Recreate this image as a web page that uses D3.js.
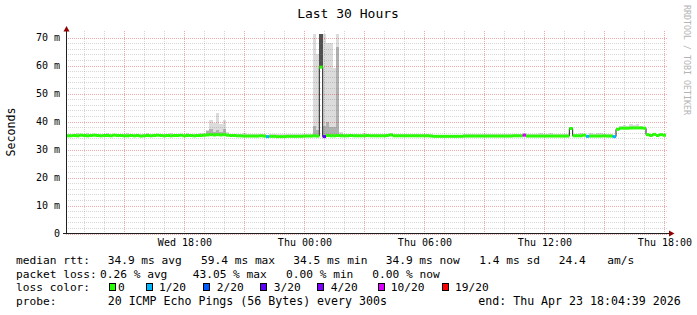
<!DOCTYPE html>
<html lang="en">
<head>
<meta charset="utf-8">
<title>Last 30 Hours</title>
<script src="https://d3js.org/d3.v7.min.js"></script>
<style>
  body{margin:0;background:#fff;}
  svg{display:block;font-family:"DejaVu Sans Mono",monospace;}
</style>
</head>
<body>
<div id="chart"></div>
<script>
// one value per 10 minutes, Wed 12:04:39 -> Thu 18:04:39 (180 steps)
var median = [
  34.9,34.9,35.0,34.9,35.1,35.0,34.9,35.0,35.1,35.0,34.9,35.0,35.0,34.9,35.1,35.0,35.0,34.9,34.9,35.0,
  34.9,35.0,34.8,34.9,35.0,34.9,35.0,35.1,35.0,34.9,35.0,34.9,35.0,35.0,35.1,34.9,35.0,35.0,34.9,35.0,
  35.0,35.1,35.2,35.3,35.2,35.3,35.2,35.3,35.1,35.0,35.0,34.9,34.9,34.8,34.8,34.8,34.8,34.8,34.9,34.8,
  34.6,34.7,34.7,34.6,34.6,34.6,34.7,34.7,34.7,34.7,34.7,34.8,34.8,34.8,34.9,34.8,59.4,34.6,35.0,34.9,
  34.9,35.0,34.9,34.9,34.9,35.0,34.9,34.9,34.9,34.9,35.0,34.9,34.9,34.9,34.9,34.9,35.0,35.2,34.9,34.9,
  34.9,34.9,34.9,34.9,34.9,34.9,34.9,34.9,34.9,34.8,34.7,34.7,34.7,34.7,34.7,34.7,34.7,34.7,34.7,34.8,
  34.8,34.8,34.8,34.8,34.8,34.8,34.8,34.8,34.8,34.8,34.8,34.8,34.8,34.8,34.9,34.9,34.9,35.1,34.8,34.8,
  34.8,34.8,34.8,34.8,34.8,34.8,34.8,34.8,34.8,34.8,34.8,37.5,34.9,34.9,34.9,35.1,34.7,34.8,34.8,34.8,
  34.8,34.9,34.8,34.8,34.6,37.2,37.6,37.6,37.6,37.7,37.7,37.7,37.7,37.6,35.3,35.0,35.4,35.0,35.3,35.1
]
// lost pings out of 20
var loss = [
  0,0,0,0,0,0,0,0,0,0,0,0,0,0,0,0,0,0,0,0,
  0,0,0,0,0,0,0,0,0,0,0,0,0,0,0,0,0,0,0,0,
  0,0,0,0,0,0,0,0,0,0,0,0,0,0,0,0,0,0,0,0,
  1,0,0,0,0,0,0,0,0,0,0,0,0,0,0,0,0,3,0,0,
  0,0,0,0,0,0,0,0,0,0,0,0,0,0,0,0,0,0,0,0,
  0,0,0,0,0,0,0,0,0,0,0,0,0,0,0,0,0,0,0,0,
  0,0,0,0,0,0,0,0,0,0,0,0,0,0,0,0,0,10,0,0,
  0,0,0,0,0,0,0,0,0,0,0,0,0,0,0,0,1,0,0,0,
  0,0,0,0,1,0,0,0,0,0,0,0,0,0,0,0,0,0,0,0
]
// slowest ping of each step (light smoke)
var smokeHi = [
  35.4,35.4,35.5,35.9,35.4,35.4,35.8,35.4,35.5,35.4,35.4,35.4,35.9,35.4,35.4,35.4,35.5,35.4,35.8,35.4,
  35.4,35.4,35.4,35.4,35.9,35.4,35.5,35.4,35.4,35.4,35.4,35.8,35.4,35.4,35.4,35.5,35.9,35.4,35.4,35.4,
  35.9,35.8,37.0,40.7,39.5,42.9,39.0,40.4,36.2,35.6,35.4,35.4,35.4,35.8,35.4,35.4,35.4,35.4,35.4,35.4,
  35.2,35.4,35.4,35.4,35.4,35.4,35.4,35.4,35.4,35.4,35.4,35.6,35.4,35.5,71.4,64.2,71.4,71.4,68.2,68.2,
  59.0,71.4,36.3,35.5,35.4,35.4,35.4,35.4,35.4,35.8,35.4,35.4,35.4,35.4,35.4,35.4,35.4,35.8,35.4,35.4,
  35.4,35.4,35.4,35.4,35.4,35.4,35.4,35.4,35.4,35.4,35.3,35.3,35.3,35.3,35.3,35.3,35.3,35.3,35.3,35.4,
  35.4,35.4,35.4,35.4,35.4,35.4,35.4,35.4,35.4,35.4,35.4,35.4,35.4,35.4,35.5,35.5,35.5,35.8,35.4,35.4,
  35.4,35.4,35.9,35.4,35.4,35.9,35.4,35.4,35.4,35.4,35.4,38.0,35.4,35.6,35.9,35.5,35.2,35.9,35.4,35.9,
  36.0,35.4,35.4,35.4,35.2,37.6,38.3,38.6,38.3,39.0,38.6,39.2,38.3,38.1,35.6,35.5,35.7,35.5,35.6,35.5
]
// upper dense part of the smoke (0 = none)
var smokeMid = [
  0,0,0,0,0,0,0,0,0,0,0,0,0,0,0,0,0,0,0,0,
  0,0,0,0,0,0,0,0,0,0,0,0,0,0,0,0,0,0,0,0,
  0,0,36.6,37.2,36.2,37.0,36.3,37.4,0,0,0,0,0,0,0,0,0,0,0,0,
  0,0,0,0,0,0,0,0,0,0,0,0,0,0,38.5,37.0,71.4,38.5,40.0,38.0,
  38.0,66.5,35.5,0,0,0,0,0,0,0,0,0,0,0,0,0,0,0,0,0,
  0,0,0,0,0,0,0,0,0,0,0,0,0,0,0,0,0,0,0,0,
  0,0,0,0,0,0,0,0,0,0,0,0,0,0,0,0,0,0,0,0,
  0,0,0,0,0,0,0,0,0,0,0,0,0,0,0,0,0,0,0,0,
  0,0,0,0,0,0,0,0,0,0,0,0,0,0,0,0,0,0,0,0
]
var yTicks = [0,10,20,30,40,50,60,70]
var lossSteps = [0,1,2,3,4,10,19]
var lossLabels = ["0","1/20","2/20","3/20","4/20","10/20","19/20"]
var lossColors = ["#26ff00","#00b8ff","#0059ff","#5e00ff","#7e00ff","#dd00ff","#ff0000"]
var rttStats = ["34.9 ms avg","59.4 ms max","34.5 ms min","34.9 ms now","1.4 ms sd","24.4","am/s"]
var lossStats = ["0.26 % avg","43.05 % max","0.00 % min","0.00 % now"]
var probeText = "20 ICMP Echo Pings (56 Bytes) every 300s"
var endText = "end: Thu Apr 23 18:04:39 2026"

var W = 697, H = 315
var start = new Date(2026,3,22,12,4,39)
var end = new Date(2026,3,23,18,4,39)

var svg = d3.select("#chart").append("svg").attr("width",W).attr("height",H)

var x = d3.scaleTime().domain([start,end]).range([66,666])
var y = d3.scaleLinear().domain([0,71.43]).range([233.5,33.5])

function lossColor(l){
  var c = lossColors[0]
  lossSteps.forEach(function(s,k){ if(l>=s) c = lossColors[k] })
  return c
}

var steps = median.map(function(m,i){
  return {
    x0: x(d3.timeMinute.offset(start,i*10)),
    x1: Math.min(666, x(d3.timeMinute.offset(start,(i+1)*10))),
    med: m, loss: loss[i], hi: smokeHi[i], mid: smokeMid[i]
  }
})

// smoke
svg.append("g").selectAll("rect").data(steps.filter(function(d){return d.hi>d.med}))
  .enter().append("rect")
  .attr("x",function(d){return d.x0}).attr("width",function(d){return d.x1-d.x0})
  .attr("y",function(d){return y(d.hi)}).attr("height",function(d){return y(d.med)-y(d.hi)})
  .attr("fill","#dcdcdc").attr("shape-rendering","crispEdges")
svg.append("g").selectAll("rect").data(steps.filter(function(d){return d.mid>d.med}))
  .enter().append("rect")
  .attr("x",function(d){return d.x0}).attr("width",function(d){return d.x1-d.x0})
  .attr("y",function(d){return y(d.mid)}).attr("height",function(d){return y(d.med)-y(d.mid)})
  .attr("fill",function(d){return d.mid>70 ? "#505050" : "#b0b0b0"}).attr("shape-rendering","crispEdges")

// grid
var minorCol = "rgba(120,120,120,0.3)", majorCol = "rgba(205,40,40,0.4)"
var grid = svg.append("g").attr("shape-rendering","crispEdges").attr("stroke-dasharray","1,1")
d3.range(0,72,2).forEach(function(v){
  grid.append("line").attr("x1",66).attr("x2",668).attr("y1",Math.round(y(v))+0.5).attr("y2",Math.round(y(v))+0.5)
    .attr("stroke", v%10==0 ? majorCol : minorCol)
})
d3.timeHour.range(d3.timeHour.ceil(start),end).forEach(function(t){
  var major = t.getHours()%3==0
  grid.append("line").attr("y1",31).attr("y2",233).attr("x1",Math.round(x(t))+0.5).attr("x2",Math.round(x(t))+0.5)
    .attr("stroke", major ? majorCol : minorCol)
})

// median: dark step line underneath, loss coloured bands on top
var pts = steps.map(function(d){return [d.x0,y(d.med)]})
pts.push([666,y(median[median.length-1])])
svg.append("path").attr("d",d3.line().curve(d3.curveStepAfter)(pts))
  .attr("fill","none").attr("stroke","#202020").attr("stroke-width",1)
svg.append("g").selectAll("rect").data(steps).enter().append("rect")
  .attr("x",function(d){return d.x0}).attr("width",function(d){return d.x1-d.x0})
  .attr("y",function(d){return y(d.med)-1.5}).attr("height",3)
  .attr("fill",function(d){return lossColor(d.loss)})

// axes
var yAxis = svg.append("g").attr("transform","translate(66,0)")
  .call(d3.axisLeft(y).tickValues(yTicks).tickSize(0).tickPadding(6)
    .tickFormat(function(d){return d ? d+" m" : "0"}))
yAxis.select(".domain").remove()
yAxis.selectAll("text").attr("font-family","DejaVu Sans Mono").attr("font-size",10).attr("fill","#000")

var xAxis = svg.append("g").attr("transform","translate(0,233)")
  .call(d3.axisBottom(x).ticks(d3.timeHour.every(6)).tickSize(0).tickPadding(6)
    .tickFormat(d3.timeFormat("%a %H:%M")))
xAxis.select(".domain").remove()
xAxis.selectAll("text").attr("font-family","DejaVu Sans Mono").attr("font-size",10).attr("fill","#000")

svg.append("line").attr("x1",66.5).attr("x2",66.5).attr("y1",31).attr("y2",234).attr("stroke","#202020")
svg.append("line").attr("x1",63).attr("x2",670).attr("y1",233.5).attr("y2",233.5).attr("stroke","#202020")
svg.append("path").attr("d","M63.5,31.5L69.5,31.5L66.5,26Z").attr("fill","#900000")
svg.append("path").attr("d","M669,230.5L669,236.5L674.5,233.5Z").attr("fill","#900000")

// titles
svg.append("text").attr("x",348).attr("y",18).attr("text-anchor","middle").attr("font-size",13).text("Last 30 Hours")
svg.append("text").attr("transform","translate(14.5,132) rotate(-90)").attr("text-anchor","middle")
  .attr("font-size",11.6).text("Seconds")
svg.append("text").attr("transform","translate(683.5,5) rotate(90)").attr("font-size",8.4)
  .attr("fill","#b4b4b4").attr("textLength",110).attr("lengthAdjust","spacingAndGlyphs").text("RRDTOOL / TOBI OETIKER")

// legend
var leg = svg.append("g").attr("fill","#000")
function put(txt,px,py,fs){ leg.append("text").attr("x",px).attr("y",py).attr("font-size",fs||11.2).attr("xml:space","preserve").text(txt) }
put("median rtt:",16,264)
var rttX = [107.7,201,293.3,385.7,479.3,558.7,607.3]
rttStats.forEach(function(s,k){ put(s,rttX[k],264) })
put("packet loss:",16,277.7)
var lossX = [100,192.7,286,372.3]
lossStats.forEach(function(s,k){ put(s,lossX[k],277.7) })
put("loss color:",16,291)
var boxX = [109,146,203,260,317,377.7,441.7]
var boxTextX = [118,159,216.7,273.7,330.7,390.7,455]
lossLabels.forEach(function(s,k){
  leg.append("rect").attr("x",Math.round(boxX[k])+0.5).attr("y",283.5).attr("width",6).attr("height",7)
    .attr("fill",lossColors[k]).attr("stroke","#000").attr("stroke-width",1)
  put(s,boxTextX[k],291)
})
put("probe:",16,305)
put(probeText,107.7,305,11.6)
put(endText,478.3,305,11.6)
</script>
</body>
</html>
